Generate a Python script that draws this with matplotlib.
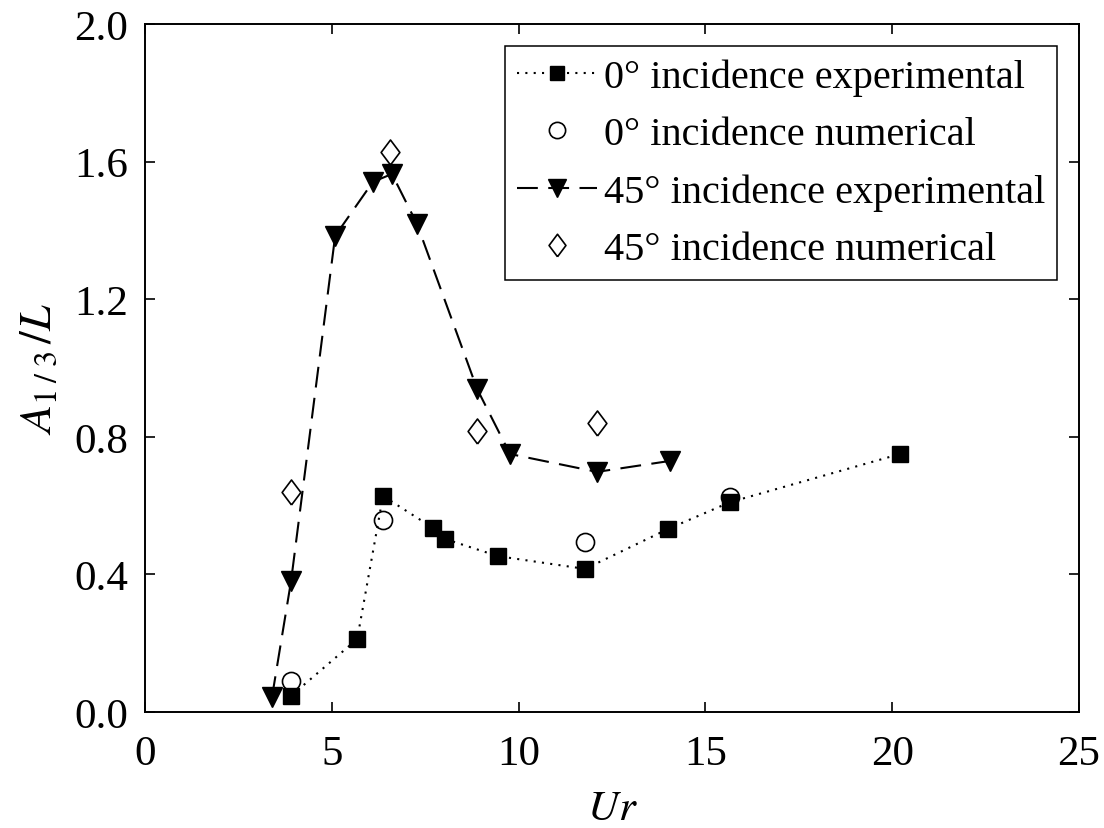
import numpy as np
import matplotlib
matplotlib.use('Agg')
import matplotlib.pyplot as plt
from matplotlib.ticker import FormatStrFormatter

# --- data: Ursell number vs significant response amplitude ---
ur_0_exp = [3.91, 5.68, 6.37, 7.71, 8.03, 9.45, 11.78, 14.00, 15.66, 20.21]
amp_0_exp = [0.047, 0.212, 0.628, 0.535, 0.503, 0.453, 0.416, 0.532, 0.610, 0.750]

ur_0_num = [3.91, 6.37, 11.78, 15.66]
amp_0_num = [0.090, 0.558, 0.494, 0.625]

ur_45_exp = [3.40, 3.91, 5.09, 6.10, 6.61, 7.28, 8.89, 9.77, 12.10, 14.06]
amp_45_exp = [0.044, 0.381, 1.384, 1.541, 1.564, 1.419, 0.939, 0.750, 0.698, 0.730]

ur_45_num = [3.91, 6.56, 8.89, 12.10]
amp_45_num = [0.640, 1.628, 0.817, 0.840]

x_ticks = [0, 5, 10, 15, 20, 25]
y_ticks = [0.0, 0.4, 0.8, 1.2, 1.6, 2.0]

# --- style ---
plt.rcParams['font.family'] = ['Liberation Serif', 'DejaVu Serif']
plt.rcParams['mathtext.fontset'] = 'stix'
tick_fs = 31
leg_fs = 29

# thin diamond used for the 45 deg numerical results
thin_diamond = [(0, -1), (0.75, 0), (0, 1), (-0.75, 0), (0, -1)]

fig = plt.figure(figsize=(11.04, 8.29), dpi=100)
ax = fig.add_axes([145 / 1104, 1 - 713 / 829, (1079 - 145) / 1104, (713 - 25) / 829])

ax.plot(ur_0_exp, amp_0_exp, color='black', lw=1.5, dashes=(1, 3),
        marker='s', ms=11, mfc='black', mec='black',
        label='0° incidence experimental')
ax.plot(ur_0_num, amp_0_num, ls='none', marker='o', ms=13,
        mfc='none', mec='black', mew=1.2,
        label='0° incidence numerical')
ax.plot(ur_45_exp, amp_45_exp, color='black', lw=1.5, dashes=(10, 5),
        marker='v', ms=15, mfc='black', mec='black',
        label='45° incidence experimental')
ax.plot(ur_45_num, amp_45_num, ls='none', marker=thin_diamond, ms=18,
        mfc='none', mec='black', mew=1.2,
        label='45° incidence numerical')

ax.set_xlim(0, 25)
ax.set_ylim(0, 2.0)
ax.set_xticks(x_ticks)
ax.set_yticks(y_ticks)
ax.yaxis.set_major_formatter(FormatStrFormatter('%.1f'))
ax.tick_params(direction='in', length=7.5, width=1.2, labelsize=tick_fs,
               top=True, right=True)
ax.tick_params(axis='x', pad=16)
ax.tick_params(axis='y', pad=12)
for sp in ax.spines.values():
    sp.set_linewidth(1.4)

ax.set_xlabel(r'$Ur$', fontsize=tick_fs, labelpad=12)
ax.set_ylabel(r'$A_{\mathit{1}\;/\;\mathit{3}}\,/L$', fontsize=tick_fs + 2, labelpad=10)

leg = ax.legend(loc='upper right', fontsize=leg_fs, frameon=True, fancybox=False,
                edgecolor='black', framealpha=1, handlelength=2.0,
                handletextpad=0.15, labelspacing=0.5, borderpad=0.3,
                markerscale=0.9, borderaxespad=0.55)
leg.get_frame().set_linewidth(1.1)

fig.savefig('out.png', dpi=100)
